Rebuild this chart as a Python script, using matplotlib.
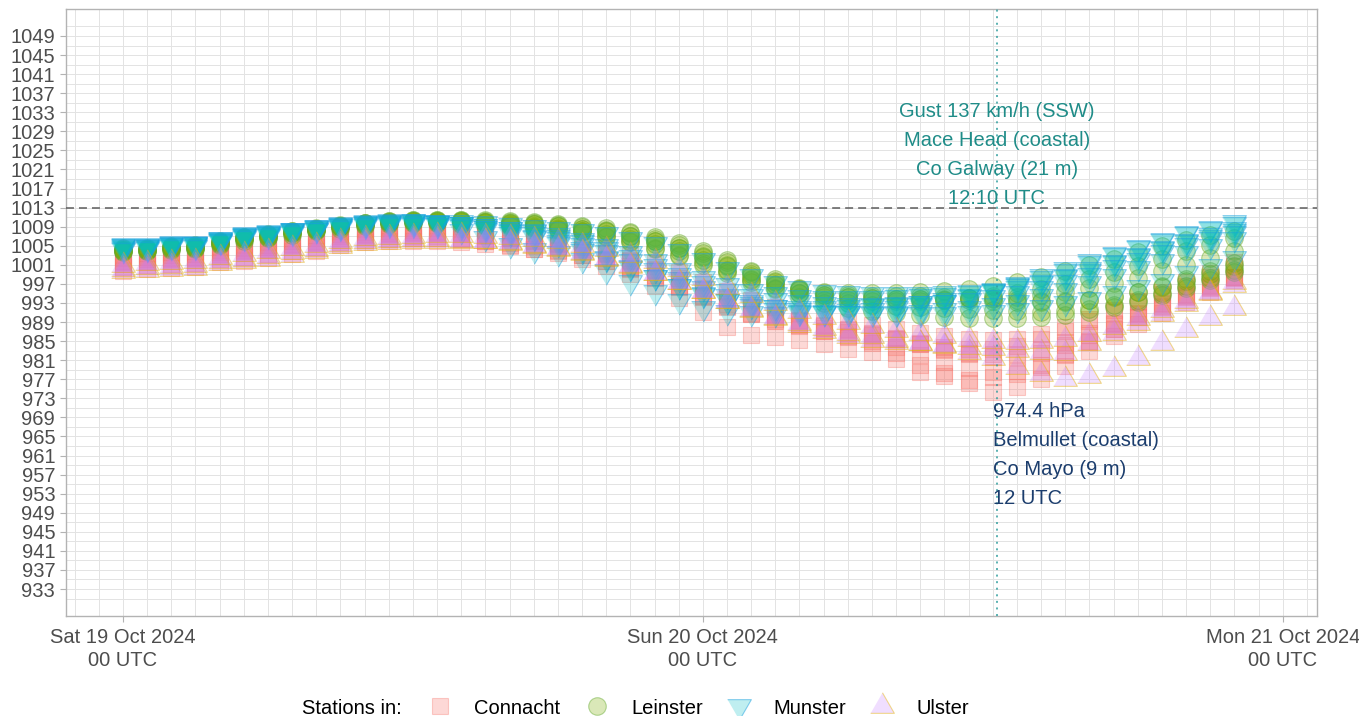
import matplotlib
matplotlib.use("Agg")
import matplotlib.pyplot as plt
from matplotlib.colors import to_rgba
from matplotlib.lines import Line2D
import pandas as pd

plt.rcParams["font.family"] = ["Liberation Sans", "DejaVu Sans"]

# hourly mean sea level pressure (hPa), Sat 19 Oct 00 UTC .. Sun 20 Oct 22 UTC
# --- Connacht
belmullet = [999.8, 1000.2, 1000.4, 1000.6, 1001.5, 1001.9, 1002.5, 1003.2, 1004.0, 1005.1, 1005.7, 1005.9, 1006.1, 1006.1,
             1005.8, 1005.4, 1004.9, 1004.4, 1003.8, 1003.0, 1001.8, 1000.3, 998.5, 996.6, 994.6, 992.7, 991.0, 989.6, 988.3,
             987.1, 985.8, 984.6, 982.6, 980.0, 978.4, 976.3, 974.4, 975.3, 977.0, 979.8, 983.0, 986.0, 988.6, 991.0, 993.2,
             995.2, 997.8]
mace_head = [1001.2, 1001.5, 1001.8, 1002.0, 1002.9, 1003.5, 1004.1, 1004.8, 1005.5, 1006.3, 1006.8, 1007.0, 1007.1, 1007.0,
             1006.6, 1006.0, 1005.1, 1004.3, 1003.4, 1002.2, 1000.8, 999.0, 996.6, 994.0, 991.2, 988.0, 986.3, 985.8, 985.2,
             984.4, 983.3, 982.7, 981.2, 978.6, 977.6, 976.8, 977.5, 978.0, 979.6, 982.0, 984.8, 987.5, 990.0, 992.3, 994.4,
             996.4, 998.4]
newport = [1000.5, 1000.9, 1001.1, 1001.3, 1002.2, 1002.7, 1003.3, 1004.0, 1004.8, 1005.8, 1006.3, 1006.5, 1006.7, 1006.7,
           1006.5, 1006.1, 1005.5, 1004.9, 1004.1, 1003.1, 1001.8, 1000.2, 998.3, 996.3, 994.2, 992.3, 990.6, 989.3, 988.1,
           987.1, 986.0, 985.1, 983.7, 982.0, 980.6, 979.4, 978.6, 978.8, 980.0, 982.4, 985.0, 987.6, 990.0, 992.2, 994.3,
           996.2, 998.2]
knock = [1001.6, 1001.9, 1002.2, 1002.4, 1003.3, 1003.8, 1004.4, 1005.1, 1005.8, 1006.7, 1007.2, 1007.4, 1007.6, 1007.6,
         1007.4, 1007.1, 1006.6, 1006.0, 1005.3, 1004.4, 1003.2, 1001.7, 999.9, 997.9, 995.8, 993.8, 992.0, 990.5, 989.2,
         988.2, 987.3, 986.5, 985.5, 984.4, 983.4, 982.6, 982.2, 982.4, 983.3, 984.9, 986.8, 988.9, 991.0, 993.0, 994.9,
         996.7, 998.5]
claremorris = [1001.9, 1002.2, 1002.5, 1002.7, 1003.6, 1004.1, 1004.7, 1005.4, 1006.1, 1007.0, 1007.5, 1007.7, 1007.9, 1007.9,
               1007.7, 1007.4, 1006.9, 1006.3, 1005.6, 1004.7, 1003.5, 1002.0, 1000.2, 998.2, 996.1, 994.0, 992.2, 990.7, 989.4,
               988.4, 987.5, 986.7, 985.6, 984.3, 983.2, 982.2, 981.6, 981.7, 982.5, 984.2, 986.3, 988.5, 990.7, 992.7, 994.7,
               996.6, 998.5]
athenry = [1002.4, 1002.7, 1003.0, 1003.2, 1004.1, 1004.6, 1005.2, 1005.9, 1006.6, 1007.4, 1007.9, 1008.1, 1008.2, 1008.1,
           1007.8, 1007.3, 1006.6, 1005.9, 1005.0, 1003.9, 1002.5, 1000.8, 998.8, 996.6, 994.4, 992.2, 990.6, 989.5, 988.6,
           987.8, 987.0, 986.3, 985.4, 984.5, 983.8, 983.3, 983.3, 984.0, 985.4, 987.2, 989.2, 991.2, 993.1, 994.9, 996.6,
           998.4, 1000.8]
mount_dillon = [1003.2, 1003.4, 1003.7, 1003.9, 1004.8, 1005.4, 1006.0, 1006.6, 1007.3, 1008.0, 1008.5, 1008.7, 1008.8, 1008.8,
                1008.6, 1008.3, 1007.9, 1007.3, 1006.6, 1005.7, 1004.5, 1003.1, 1001.4, 999.5, 997.5, 995.5, 993.7, 992.2, 991.0,
                990.0, 989.1, 988.3, 987.5, 986.7, 986.0, 985.5, 985.3, 985.5, 986.4, 987.9, 989.7, 991.6, 993.5, 995.3, 997.3,
                999.3, 1001.5]
# --- Leinster
johnstown_castle = [1004.5, 1004.6, 1005.0, 1005.1, 1006.0, 1006.9, 1007.4, 1008.0, 1008.6, 1009.2, 1009.7, 1010.0, 1010.2, 1010.2,
                    1010.1, 1009.9, 1009.6, 1009.2, 1008.7, 1008.0, 1007.1, 1006.0, 1004.6, 1003.0, 1001.3, 999.6, 998.1, 996.9,
                    996.0, 995.4, 995.1, 995.0, 995.1, 995.3, 995.6, 996.0, 996.6, 997.4, 998.4, 999.6, 1000.9, 1002.3, 1003.7,
                    1005.0, 1006.2, 1007.2, 1008.1]
oak_park = [1004.0, 1004.1, 1004.5, 1004.6, 1005.5, 1006.4, 1006.9, 1007.6, 1008.3, 1008.9, 1009.4, 1009.8, 1010.0, 1010.0,
            1009.9, 1009.7, 1009.4, 1009.0, 1008.5, 1007.8, 1006.9, 1005.8, 1004.4, 1002.8, 1001.0, 999.2, 997.5, 996.1, 995.0,
            994.2, 993.7, 993.5, 993.4, 993.5, 993.7, 994.0, 994.5, 995.1, 995.9, 996.9, 998.1, 999.4, 1000.8, 1002.3, 1003.8,
            1005.2, 1006.6]
casement = [1004.1, 1004.2, 1004.6, 1004.7, 1005.6, 1006.6, 1007.1, 1007.8, 1008.5, 1009.1, 1009.6, 1010.0, 1010.2, 1010.2,
            1010.1, 1010.0, 1009.8, 1009.5, 1009.1, 1008.6, 1008.0, 1007.1, 1006.0, 1004.6, 1002.9, 1001.0, 999.0, 997.3, 995.7,
            994.6, 994.2, 994.0, 993.9, 993.9, 993.9, 994.0, 994.1, 994.3, 994.7, 995.3, 996.1, 997.1, 998.3, 999.6, 1001.0,
            1002.5, 1004.0]
dublin_airport = [1004.3, 1004.4, 1004.8, 1004.9, 1005.8, 1006.8, 1007.3, 1008.0, 1008.7, 1009.3, 1009.8, 1010.2, 1010.4, 1010.4,
                  1010.4, 1010.3, 1010.1, 1009.9, 1009.6, 1009.2, 1008.7, 1007.9, 1006.9, 1005.6, 1004.0, 1002.0, 999.8, 998.1,
                  996.2, 995.0, 994.6, 994.5, 994.5, 994.4, 994.3, 994.1, 993.9, 993.6, 993.4, 993.4, 993.7, 994.3, 995.2, 996.3,
                  997.6, 999.1, 1000.8]
phoenix_park = [1004.2, 1004.3, 1004.7, 1004.8, 1005.7, 1006.7, 1007.2, 1007.9, 1008.6, 1009.2, 1009.7, 1010.1, 1010.3, 1010.3,
                1010.3, 1010.2, 1010.0, 1009.8, 1009.4, 1009.0, 1008.4, 1007.6, 1006.5, 1005.2, 1003.5, 1001.5, 999.4, 997.7,
                995.9, 994.7, 994.2, 994.0, 993.9, 993.8, 993.7, 993.6, 993.5, 993.3, 993.2, 993.3, 993.7, 994.4, 995.4, 996.6,
                998.0, 999.6, 1001.3]
mullingar = [1003.6, 1003.8, 1004.2, 1004.3, 1005.2, 1006.1, 1006.6, 1007.3, 1008.0, 1008.6, 1009.1, 1009.5, 1009.7, 1009.7,
             1009.6, 1009.4, 1009.1, 1008.8, 1008.4, 1008.0, 1007.4, 1006.5, 1005.3, 1003.8, 1002.0, 1000.0, 997.9, 996.0,
             994.3, 993.0, 992.0, 991.3, 990.8, 990.4, 990.1, 989.9, 989.8, 989.8, 990.0, 990.4, 991.1, 992.1, 993.3, 994.7,
             996.2, 997.8, 999.4]
dunsany = [1003.9, 1004.0, 1004.4, 1004.5, 1005.4, 1006.4, 1006.9, 1007.6, 1008.3, 1008.9, 1009.5, 1009.9, 1010.1, 1010.1,
           1010.1, 1010.0, 1009.8, 1009.5, 1009.1, 1008.6, 1008.0, 1007.1, 1005.9, 1004.5, 1002.7, 1000.7, 998.6, 996.8, 995.0,
           993.7, 993.0, 992.6, 992.3, 992.1, 991.9, 991.7, 991.5, 991.3, 991.2, 991.3, 991.7, 992.5, 993.6, 995.0, 996.6,
           998.3, 1000.0]
# --- Munster
valentia = [1004.9, 1004.9, 1005.3, 1005.3, 1006.3, 1007.2, 1007.6, 1008.2, 1008.8, 1009.3, 1009.7, 1009.9, 1010.0, 1009.7,
            1008.0, 1006.6, 1005.2, 1004.2, 1003.4, 1002.0, 999.8, 997.5, 995.4, 993.4, 992.0, 991.2, 990.8, 990.6, 990.8,
            991.0, 991.3, 991.6, 992.0, 992.5, 993.2, 994.2, 995.5, 997.0, 998.6, 1000.2, 1001.8, 1003.3, 1004.8, 1006.2,
            1007.6, 1008.8, 1009.9]
sherkin_island = [1005.1, 1005.1, 1005.5, 1005.5, 1006.5, 1007.4, 1007.8, 1008.4, 1009.0, 1009.5, 1009.9, 1010.1, 1010.2, 1010.0,
                  1009.6, 1008.8, 1007.8, 1006.9, 1005.8, 1004.3, 1002.5, 1000.5, 998.5, 996.5, 994.7, 993.5, 992.7, 992.2,
                  992.0, 992.0, 992.1, 992.3, 992.6, 993.0, 993.6, 994.4, 995.4, 996.7, 998.2, 999.8, 1001.4, 1003.0, 1004.6,
                  1006.0, 1007.4, 1008.6, 1009.6]
cork_airport = [1004.6, 1004.7, 1005.1, 1005.2, 1006.1, 1007.0, 1007.4, 1008.0, 1008.6, 1009.1, 1009.5, 1009.7, 1009.8, 1009.7,
                1009.5, 1009.1, 1008.6, 1008.0, 1007.2, 1006.2, 1004.9, 1003.4, 1001.8, 1000.0, 998.2, 996.7, 995.6, 994.8,
                994.3, 994.1, 994.0, 994.1, 994.2, 994.4, 994.7, 995.0, 995.5, 996.2, 997.2, 998.4, 999.8, 1001.3, 1002.8,
                1004.3, 1005.7, 1006.9, 1008.0]
roches_point = [1005.0, 1005.0, 1005.4, 1005.4, 1006.4, 1007.3, 1007.7, 1008.3, 1008.9, 1009.4, 1009.8, 1010.0, 1010.1, 1010.0,
                1009.9, 1009.7, 1009.4, 1009.0, 1008.6, 1008.1, 1007.4, 1006.5, 1005.4, 1003.9, 1002.0, 1000.2, 998.6, 997.2,
                996.1, 995.4, 995.0, 994.8, 994.8, 994.9, 995.1, 995.4, 995.8, 996.5, 997.5, 998.7, 1000.1, 1001.6, 1003.1,
                1004.6, 1006.0, 1007.3, 1008.5]
shannon_airport = [1004.4, 1004.5, 1004.9, 1005.0, 1005.9, 1006.8, 1007.2, 1007.8, 1008.4, 1008.9, 1009.3, 1009.5, 1009.6, 1009.4,
                   1009.0, 1008.3, 1007.5, 1006.6, 1005.4, 1003.9, 1002.2, 1000.4, 998.5, 996.6, 994.9, 993.4, 992.3, 991.6,
                   991.2, 991.0, 990.9, 990.9, 991.0, 991.2, 991.5, 991.9, 992.5, 993.3, 994.4, 995.7, 997.1, 998.7, 1000.3,
                   1001.9, 1003.5, 1005.0, 1006.4]
moore_park = [1004.7, 1004.8, 1005.2, 1005.3, 1006.2, 1007.1, 1007.5, 1008.1, 1008.7, 1009.2, 1009.6, 1009.8, 1009.9, 1009.8,
              1009.6, 1009.1, 1008.5, 1007.8, 1006.9, 1005.7, 1004.3, 1002.6, 1000.8, 998.9, 997.1, 995.6, 994.4, 993.6, 993.1,
              992.8, 992.6, 992.6, 992.7, 992.9, 993.2, 993.6, 994.2, 995.0, 996.1, 997.4, 998.9, 1000.5, 1002.1, 1003.7,
              1005.2, 1006.5, 1007.7]
gurteen = [1004.2, 1004.3, 1004.7, 1004.8, 1005.7, 1006.6, 1007.0, 1007.6, 1008.2, 1008.7, 1009.1, 1009.3, 1009.4, 1009.3,
           1009.1, 1008.7, 1008.1, 1007.4, 1006.4, 1005.1, 1003.6, 1001.8, 999.9, 998.0, 996.1, 994.5, 993.2, 992.2, 991.6,
           991.2, 990.9, 990.7, 990.6, 990.6, 990.7, 990.9, 991.2, 991.6, 992.2, 993.0, 993.9, 995.0, 996.3, 997.7, 999.2,
           1000.8, 1002.4]
# --- Ulster
malin_head = [999.6, 1000.0, 1000.2, 1000.4, 1001.3, 1001.7, 1002.3, 1003.0, 1003.8, 1004.9, 1005.5, 1005.8, 1006.0, 1006.1,
              1006.1, 1005.9, 1005.5, 1005.0, 1004.3, 1003.4, 1002.2, 1000.8, 999.2, 997.4, 995.5, 993.5, 991.6, 989.9, 988.4,
              987.1, 986.0, 985.3, 984.9, 984.5, 983.9, 982.8, 981.5, 979.5, 978.0, 977.0, 977.6, 979.1, 981.5, 984.6, 987.3,
              989.8, 991.9]
finner = [1000.2, 1000.6, 1000.8, 1001.0, 1001.9, 1002.3, 1002.9, 1003.6, 1004.4, 1005.4, 1006.0, 1006.2, 1006.4, 1006.4,
          1006.3, 1006.1, 1005.7, 1005.2, 1004.5, 1003.6, 1002.4, 1001.0, 999.3, 997.5, 995.5, 993.5, 991.7, 990.1, 988.8,
          987.7, 986.8, 986.0, 985.3, 984.6, 984.1, 983.7, 983.5, 983.2, 982.7, 982.6, 984.6, 986.8, 988.9, 990.7, 992.8,
          995.2, 997.3]
ballyhaise = [1001.0, 1001.3, 1001.6, 1001.8, 1002.7, 1003.2, 1003.8, 1004.5, 1005.2, 1006.1, 1006.6, 1006.9, 1007.1, 1007.2,
              1007.2, 1007.1, 1006.8, 1006.4, 1005.9, 1005.2, 1004.3, 1003.1, 1001.7, 1000.1, 998.3, 996.4, 994.6, 992.9, 991.4,
              990.1, 989.0, 988.1, 987.3, 986.6, 986.0, 985.5, 985.1, 984.9, 985.0, 985.5, 986.5, 988.0, 989.8, 991.6, 993.4,
              995.1, 996.7]

provinces = ["Connacht", "Leinster", "Munster", "Ulster"]
stations = {
    "Connacht": [belmullet, mace_head, newport, knock, claremorris, athenry, mount_dillon],
    "Leinster": [johnstown_castle, oak_park, casement, dublin_airport, phoenix_park, mullingar, dunsany],
    "Munster": [valentia, sherkin_island, cork_airport, roches_point, shannon_airport, moore_park, gurteen],
    "Ulster": [malin_head, finner, ballyhaise],
}

start = pd.Timestamp("2024-10-19 00:00")
times = pd.date_range(start, periods=len(belmullet), freq="h").to_pydatetime()
gust_time = pd.Timestamp("2024-10-20 12:10").to_pydatetime()
low_time = pd.Timestamp("2024-10-20 12:00").to_pydatetime()
low_value = 974.4
msl_ref = 1013

gust_lines = ["Gust 137 km/h (SSW)", "Mace Head (coastal)", "Co Galway (21 m)", "12:10 UTC"]
low_lines = ["974.4 hPa", "Belmullet (coastal)", "Co Mayo (9 m)", "12 UTC"]

tri_up = [(-1, -0.577), (1, -0.577), (0, 1.155)]
tri_down = [(-1, 0.577), (1, 0.577), (0, -1.155)]
style = {
    "Connacht": dict(marker="s", s=120, fc=to_rgba("#F8766D", 0.28), ec=to_rgba("#F8766D", 0.35)),
    "Leinster": dict(marker="o", s=160, fc=to_rgba("#7CAE00", 0.28), ec=to_rgba("#5fa82a", 0.45)),
    "Munster": dict(marker=tri_down, s=390, fc=to_rgba("#00BFC4", 0.25), ec=to_rgba("#1a9fe0", 0.5)),
    "Ulster": dict(marker=tri_up, s=390, fc=to_rgba("#C77CFF", 0.25), ec=to_rgba("#E6B400", 0.45)),
}

W, H = 1359, 716
fig = plt.figure(figsize=(W / 100, H / 100), dpi=100)
ax = fig.add_axes([66 / W, 1 - 616 / H, (1317 - 66) / W, (616 - 9) / H])

for prov in provinces:
    st = style[prov]
    for vals in stations[prov]:
        ax.scatter(times, vals, marker=st["marker"], s=st["s"], facecolors=[st["fc"]],
                   edgecolors=[st["ec"]], linewidths=0.8, zorder=2)

ax.axhline(msl_ref, color="#5c5c5c", lw=1.1, dashes=(5.2, 3.3), zorder=3)
ax.axvline(gust_time, color="#2f9d9d", lw=1.1, linestyle=(0, (1.3, 3.0)), zorder=3)

gust_off = [65.6, 44.7, 23.8, 2.95]
for txt, off in zip(gust_lines, gust_off):
    ax.annotate(txt, xy=(gust_time, msl_ref), xytext=(0, off), textcoords="offset points",
                ha="center", va="baseline", fontsize=14.5, color="#1f8c88", zorder=4)
low_off = [-17.9, -38.8, -59.7, -80.6]
for txt, off in zip(low_lines, low_off):
    ax.annotate(txt, xy=(low_time, low_value), xytext=(0.5, off), textcoords="offset points",
                ha="left", va="baseline", fontsize=14.5, color="#1b3d6d", zorder=4)

# ticks
day_ticks = pd.date_range("2024-10-19", periods=3, freq="D").to_pydatetime()
day_labels = [d.strftime("%a %d %b %Y") + "\n00 UTC" for d in day_ticks]
ax.set_xticks(day_ticks)
ax.set_xticklabels(day_labels, fontsize=14.5, color="#4d4d4d", linespacing=1.27)
ax.set_xticks(pd.date_range("2024-10-18 22:00", "2024-10-21 01:00", freq="h").to_pydatetime(), minor=True)

ax.set_yticks(range(933, 1050, 4))
ax.set_yticklabels([str(v) for v in range(933, 1050, 4)], fontsize=14.5, color="#4d4d4d")
ax.set_yticks([v for v in range(929, 1055, 2) if (v - 933) % 4 != 0], minor=True)

# limits after the ticks, so the tick lists cannot widen them
ax.set_xlim(start - pd.Timedelta(hours=2.36), start + pd.Timedelta(hours=49.42))
ax.set_ylim(927.34, 1054.66)

ax.tick_params(axis="both", which="major", length=4.3, width=0.8, color="#b3b3b3")
ax.tick_params(axis="y", which="major", pad=3.5)
ax.tick_params(axis="x", which="major", pad=4.5)
ax.tick_params(which="minor", length=0)

ax.grid(which="both", color="#e3e3e3", lw=0.7, zorder=0)
ax.set_axisbelow(True)
for sp in ax.spines.values():
    sp.set_color("#b3b3b3")
    sp.set_linewidth(1.0)

# legend (sits at the very bottom edge, as in the original)
handles = []
for prov in provinces:
    st = style[prov]
    handles.append(Line2D([], [], linestyle="", marker=st["marker"], markersize=st["s"] ** 0.5,
                          markerfacecolor=st["fc"], markeredgecolor=st["ec"], markeredgewidth=0.8))
leg_y = (H - 708) / H
fig.text(302 / W, leg_y, "Stations in:", ha="left", va="center", fontsize=14.5, color="black")
fig.legend(handles, provinces, loc="center left", bbox_to_anchor=(428 / W, leg_y), ncol=4,
           frameon=False, fontsize=14.5, handlelength=1.2, handletextpad=1.1, columnspacing=1.2,
           borderpad=0, borderaxespad=0)

fig.savefig("out.png", dpi=100)
